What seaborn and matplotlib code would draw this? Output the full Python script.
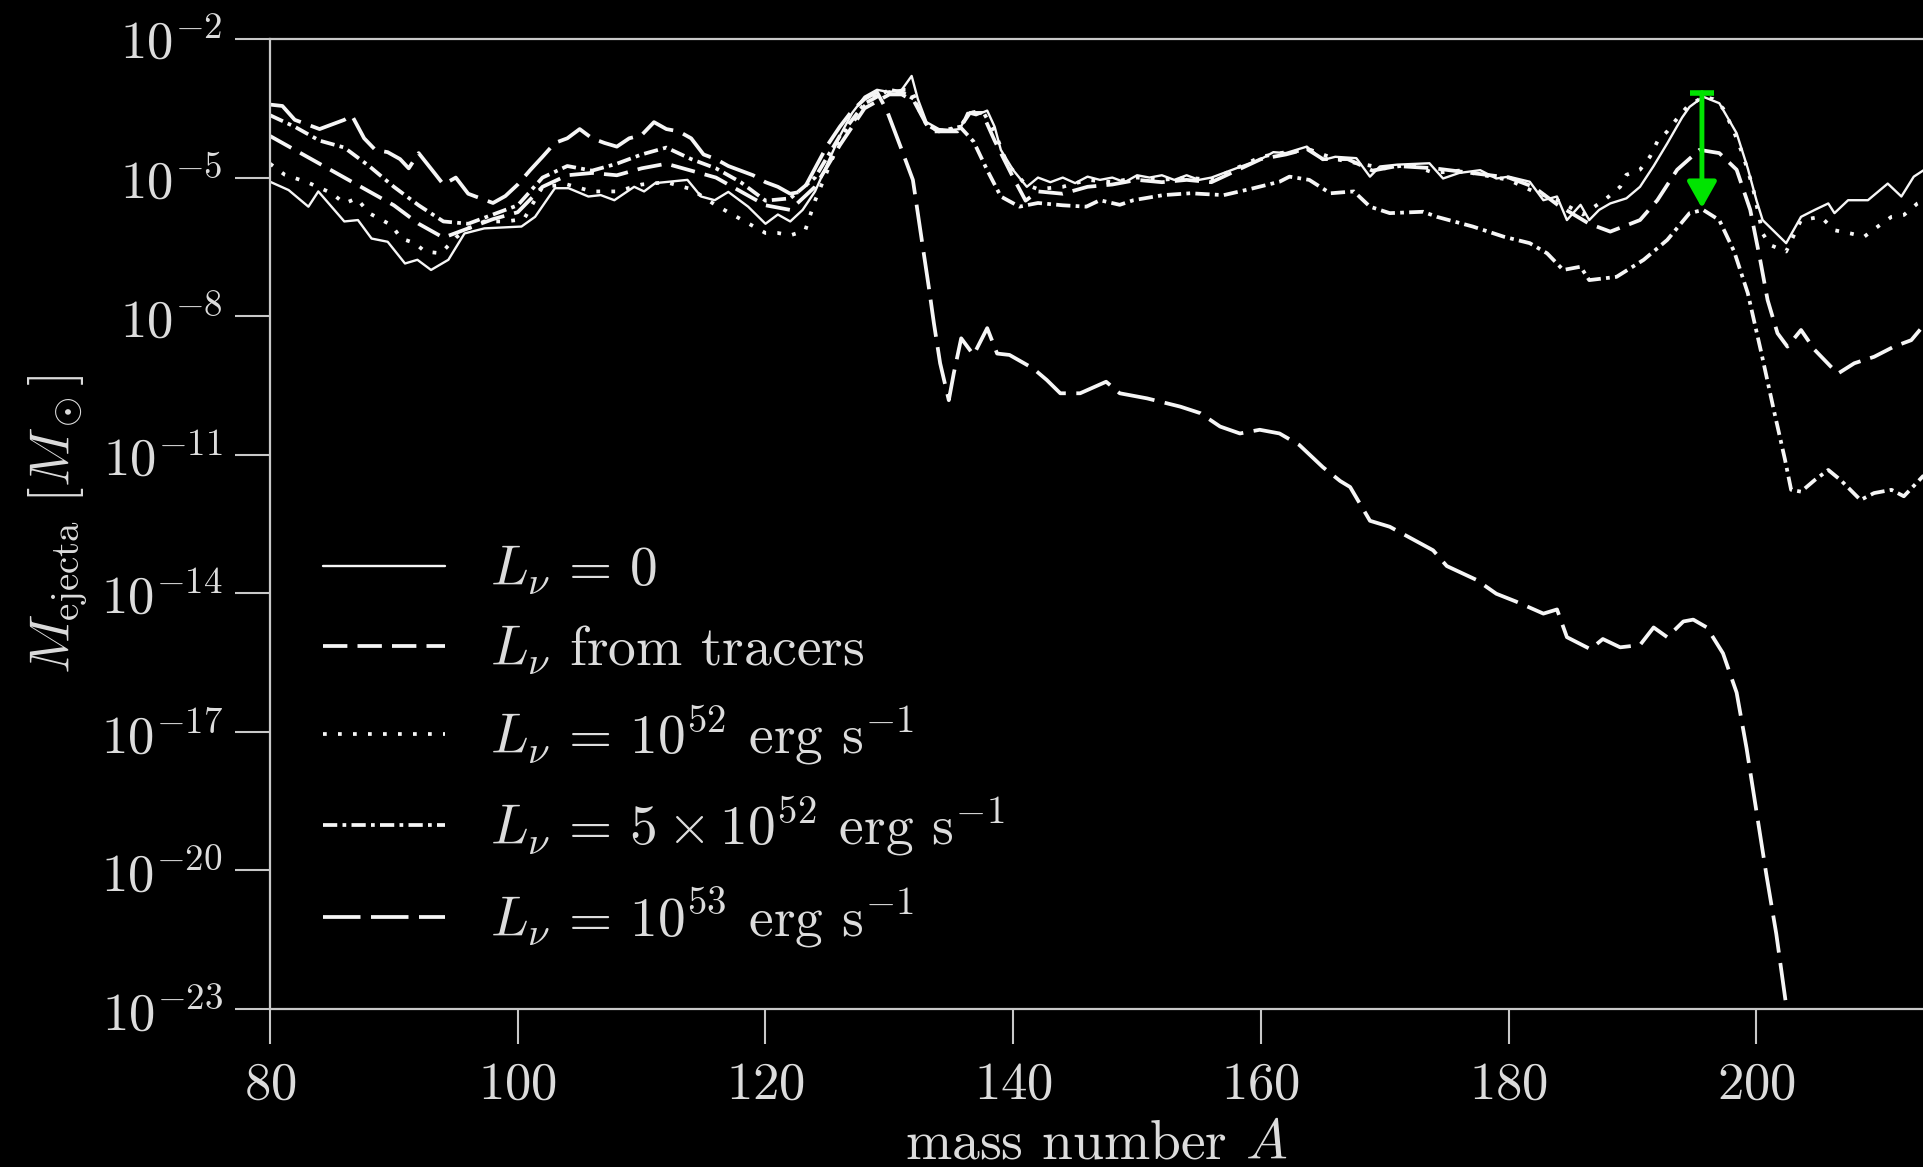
import numpy as np
import pandas as pd
import matplotlib
matplotlib.use("Agg")
import matplotlib.pyplot as plt
import seaborn as sns

# ---------------- data: (mass number A, log10 M_ejecta / M_sun) ----------------
lnu_zero = [(80, -5.09), (81.5, -5.27), (83.1, -5.63), (83.9, -5.30), (86.0, -5.95), (87.1, -5.92),
            (88.2, -6.32), (89.5, -6.39), (90.9, -6.86), (91.9, -6.78), (93.0, -7.0), (94.4, -6.78),
            (95.7, -6.21), (97.3, -6.1), (100.3, -6.06), (101.4, -5.85), (103.0, -5.23), (104.1, -5.23),
            (105.7, -5.41), (106.7, -5.38), (107.8, -5.49), (109.4, -5.2), (110.2, -5.3), (111.1, -5.12),
            (113.7, -5.05), (114.8, -5.41), (115.9, -5.49), (117.0, -5.31), (118.6, -5.63), (120.0, -6.0),
            (121.0, -5.8), (122.0, -5.95), (123.0, -5.7), (124.0, -5.3), (125.0, -4.7), (126.0, -4.1),
            (127.0, -3.6), (128.0, -3.25), (129.0, -3.1), (130.0, -3.15), (131.0, -3.1), (131.8, -2.8),
            (132.3, -3.3), (133.0, -3.8), (134.0, -3.95), (135.0, -3.97), (135.7, -3.95), (136.3, -3.6),
            (137.0, -3.65), (137.9, -3.55), (138.5, -3.9), (139.0, -4.4), (140.0, -4.84), (141.1, -5.2),
            (142, -5.0), (143, -5.1), (144, -5.0), (145, -5.12), (146, -4.98), (147, -5.05), (148, -5.0),
            (149, -5.1), (150, -4.95), (151, -5.0), (152, -4.95), (153, -5.05), (154, -4.95), (155, -5.05),
            (156, -5.0), (157, -4.9), (158, -4.8), (159, -4.7), (160, -4.6), (161, -4.45), (162, -4.47),
            (163.7, -4.33), (165, -4.62), (166, -4.55), (167.7, -4.58), (168.8, -4.98), (169.6, -4.76),
            (171, -4.72), (173.6, -4.69), (174.7, -5.02), (176, -4.9), (177.7, -4.84), (179, -5.02),
            (180, -4.98), (181.7, -5.09), (182.8, -5.49), (183.9, -5.41), (184.7, -5.92), (185.8, -5.59),
            (186.5, -5.92), (187.3, -5.7), (188.2, -5.56), (189.5, -5.45), (190.6, -5.2), (191.7, -4.75),
            (192.8, -4.26), (194.0, -3.7), (194.6, -3.47), (195.7, -3.25), (197.0, -3.39), (198.4, -4.04),
            (199.3, -4.8), (200.0, -5.49), (200.5, -5.92), (202.4, -6.42), (203.6, -5.85), (204.7, -5.7),
            (205.8, -5.56), (206.3, -5.77), (207.4, -5.49), (209.0, -5.49), (210.6, -5.13), (211.7, -5.41),
            (212.7, -4.98), (213.5, -4.84)]

lnu_tracers = [(80, -4.1), (82, -4.4), (84, -4.7), (86, -5.0), (88, -5.3), (90, -5.6), (92, -6.0),
               (94, -6.3), (96, -6.1), (98, -5.9), (100, -5.75), (102, -5.2), (104, -4.95), (106, -4.9),
               (108, -4.95), (110, -4.8), (112, -4.7), (114, -4.85), (116, -5.0), (118, -5.3), (120, -5.6),
               (122, -5.7), (124, -5.2), (126, -4.3), (128, -3.5), (130, -3.2), (131, -3.2), (132, -3.35),
               (133, -3.85), (134, -4.0), (135.5, -4.0), (136.5, -3.6), (137.5, -3.6), (138.5, -4.2),
               (140, -5.0), (141, -5.5), (142, -5.3), (144, -5.35), (146, -5.2), (148, -5.15), (150, -5.05),
               (152, -5.1), (154, -5.05), (156, -5.1), (158, -4.85), (160, -4.6), (162, -4.5), (163.7, -4.38),
               (165, -4.6), (167, -4.6), (169, -4.85), (171, -4.75), (174, -4.8), (177, -4.9), (180, -5.0),
               (182, -5.2), (184, -5.6), (186.5, -6.0), (188.2, -6.17), (190.6, -5.92), (192, -5.49),
               (193.6, -4.83), (195.4, -4.4), (197, -4.47), (198.4, -4.83), (199.5, -5.7), (200.3, -6.78),
               (200.9, -7.65), (201.7, -8.37), (202.5, -8.66), (203.6, -8.3), (204.7, -8.73), (206, -9.09),
               (206.6, -9.24), (207.9, -9.02), (209.5, -8.88), (211.1, -8.66), (212.5, -8.52), (213.5, -8.2)]

lnu_1e52 = [(80, -4.7), (81.2, -4.94), (83, -5.1), (85, -5.34), (86, -5.56), (87, -5.45), (88, -5.77),
            (89.8, -6.03), (90.6, -6.32), (91.7, -6.42), (92.5, -6.6), (93.8, -6.64), (95, -6.3), (96, -6.1),
            (97.3, -5.95), (99, -5.95), (100.5, -5.9), (102, -5.2), (104, -5.15), (106, -5.3), (108, -5.3),
            (110, -5.15), (112, -5.1), (114, -5.25), (116, -5.6), (118, -5.9), (120, -6.2), (121, -6.2),
            (122, -6.25), (123.2, -6.15), (124, -5.5), (126, -4.2), (128, -3.45), (129, -3.2), (130, -3.15),
            (131, -3.1), (131.8, -3.1), (132.5, -3.6), (133.3, -4.0), (134.5, -4.0), (135.7, -3.9),
            (136.5, -3.6), (137.5, -3.55), (138.5, -4.0), (139.5, -4.7), (141, -5.15), (142, -5.25),
            (144, -5.2), (146, -5.05), (148, -5.1), (150, -5.0), (152, -5.05), (154, -5.0), (156, -5.05),
            (158, -4.8), (160, -4.55), (162, -4.45), (164, -4.4), (166, -4.6), (168, -4.7), (170, -4.8),
            (172, -4.72), (174, -4.9), (176, -4.85), (178, -4.95), (180, -5.05), (182, -5.3), (184, -5.5),
            (186, -5.8), (187.9, -5.45), (189, -5.2), (189.5, -4.94), (190.6, -4.83), (191.4, -4.55),
            (192, -4.22), (192.8, -4.0), (193.6, -3.72), (194.4, -3.47), (195.7, -3.25), (196.5, -3.3),
            (197.3, -3.5), (198.1, -3.95), (198.9, -4.5), (199.7, -5.2), (200.5, -6.21), (201.1, -6.46),
            (202.4, -6.6), (203.6, -5.92), (205.2, -5.85), (206.3, -6.14), (207.6, -6.21), (208.7, -6.28),
            (209.8, -6.06), (210.9, -5.85), (211.9, -5.81), (213, -5.56), (213.5, -5.5)]

lnu_5e52 = [(80, -3.65), (82, -3.9), (84, -4.2), (86, -4.35), (88, -4.75), (90, -5.2), (92, -5.6),
            (94, -5.95), (96, -6.0), (98, -5.8), (100, -5.6), (102, -5.0), (104, -4.75), (106, -4.85),
            (108, -4.7), (110, -4.5), (112, -4.35), (114, -4.6), (116, -4.8), (118, -5.1), (120, -5.5),
            (122, -5.45), (124, -5.0), (126, -4.1), (128, -3.4), (130, -3.1), (131, -3.15), (132, -3.3),
            (133, -3.85), (134, -4.0), (135.7, -3.9), (136.8, -4.22), (137.9, -4.84), (139, -5.41),
            (140.5, -5.63), (142, -5.55), (144, -5.6), (145.9, -5.63), (147, -5.49), (148.6, -5.59),
            (149.7, -5.49), (152.1, -5.38), (154.3, -5.34), (157, -5.38), (159.4, -5.23), (161.5, -5.09),
            (162.3, -4.98), (163.9, -5.05), (165.6, -5.34), (167.5, -5.3), (168.8, -5.63), (170.4, -5.77),
            (173.1, -5.74), (174.2, -5.85), (177.1, -6.06), (179.6, -6.28), (181.7, -6.42), (183.1, -6.64),
            (184.4, -7.0), (185.8, -6.93), (186.5, -7.22), (188.7, -7.15), (190.9, -6.78), (192.8, -6.35),
            (194.6, -5.77), (195.7, -5.7), (197, -5.92), (198.2, -6.6), (199.3, -7.5), (200.4, -8.8),
            (201.4, -10.03), (202.3, -11.1), (202.8, -11.76), (203.6, -11.8), (204.7, -11.55),
            (205.8, -11.33), (206.8, -11.55), (208.4, -11.98), (209.5, -11.83), (210.9, -11.76),
            (211.9, -11.9), (213.5, -11.45)]

lnu_1e53 = [(80, -3.42), (81, -3.45), (82, -3.75), (83, -3.85), (84, -3.95), (85, -3.85), (86, -3.75),
            (86.6, -3.65), (87.6, -4.15), (88.5, -4.4), (89.5, -4.45), (90.5, -4.6), (91.2, -4.8),
            (92, -4.47), (93.3, -4.91), (94, -5.15), (95, -5.0), (96, -5.35), (97, -5.45), (98, -5.55),
            (99, -5.4), (100, -5.15), (101, -4.84), (102, -4.55), (103, -4.25), (104, -4.15), (105, -3.95),
            (106, -4.15), (107, -4.25), (108, -4.33), (109, -4.15), (110, -4.08), (111, -3.8), (112, -3.95),
            (113, -4.0), (114, -4.15), (115, -4.5), (116, -4.6), (117, -4.75), (118, -4.85), (119, -4.95),
            (120, -5.1), (121, -5.2), (122, -5.35), (123, -5.3), (124, -4.8), (125, -4.3), (126, -3.9),
            (127, -3.55), (128, -3.3), (129, -3.15), (129.8, -3.55), (130.9, -4.33), (131.9, -5.05),
            (132.7, -6.5), (133.2, -7.4), (133.6, -8.16), (134.1, -9.02), (134.8, -9.82), (135.2, -9.24),
            (135.8, -8.48), (136.8, -8.84), (137.9, -8.26), (138.7, -8.81), (139.7, -8.84), (141.6, -9.13),
            (142.7, -9.38), (143.8, -9.67), (145.4, -9.67), (147.5, -9.42), (148.6, -9.67), (150.8, -9.78),
            (153.5, -9.96), (155.1, -10.1), (156.7, -10.39), (158.3, -10.54), (159.9, -10.46),
            (161.5, -10.54), (163.1, -10.79), (165, -11.27), (166.4, -11.57), (167.2, -11.7),
            (168.8, -12.43), (170.4, -12.56), (173.9, -13.07), (175, -13.41), (177.4, -13.71),
            (179, -14.01), (180.6, -14.18), (182.8, -14.44), (183.9, -14.35), (184.7, -14.95),
            (186.6, -15.21), (187.6, -14.99), (189, -15.17), (190.6, -15.12), (191.7, -14.74),
            (192.8, -14.95), (194.1, -14.61), (194.9, -14.57), (196, -14.74), (197.3, -15.3),
            (198.4, -16.15), (199.2, -17.35), (200, -18.72), (200.8, -20.09), (201.6, -21.37),
            (202.4, -22.92), (203, -24.0)]

series_labels = [r"$L_\nu \,=\, 0$",
                 r"$L_\nu$ from tracers",
                 r"$L_\nu \,=\, 10^{52}$ erg s$^{-1}$",
                 r"$L_\nu \,=\, 5\times 10^{52}$ erg s$^{-1}$",
                 r"$L_\nu \,=\, 10^{53}$ erg s$^{-1}$"]
series_data = [lnu_zero, lnu_tracers, lnu_1e52, lnu_5e52, lnu_1e53]

ytick_exponents = [-2, -5, -8, -11, -14, -17, -20, -23]
xticks = [80, 100, 120, 140, 160, 180, 200]

# green arrow annotation (A, log10 top, log10 bottom)
arrow_A = 195.6
arrow_top = -3.16
arrow_bottom = -5.66

# ---------------- styling ----------------
sns.set_theme(style="ticks")
plt.rcParams.update({
    "font.family": "serif",
    "font.serif": ["cmr10", "DejaVu Serif"],
    "mathtext.fontset": "cm",
    "axes.unicode_minus": False,
    "axes.formatter.use_mathtext": True,
})

W, H = 1923, 1167
fig = plt.figure(figsize=(W / 100, H / 100), dpi=100, facecolor="black")
ax_left, ax_right, ax_top, ax_bottom = 270, 1923, 39, 1009
ax = fig.add_axes([ax_left / W, (H - ax_bottom) / H, (ax_right - ax_left) / W, (ax_bottom - ax_top) / H])
ax.set_facecolor("black")

line_col = "#f6f6f6"
styles = [
    dict(linestyle="-", linewidth=1.7),
    dict(linestyle=(0, (6.5, 2.7)), linewidth=2.7),
    dict(linestyle=(0, (1, 3.0)), linewidth=2.7),
    dict(linestyle=(0, (3.8, 1.4, 1, 1.4)), linewidth=2.7),
    dict(linestyle=(0, (10, 2.8)), linewidth=2.7),
]

for pts, lab, st in zip(series_data, series_labels, styles):
    df = pd.DataFrame(pts, columns=["A", "logM"])
    df["M"] = 10.0 ** df["logM"]
    sns.lineplot(data=df, x="A", y="M", ax=ax, color=line_col, label=lab,
                 estimator=None, sort=False, **st)

ax.set_yscale("log")
ax.set_xlim(80, 80 + (ax_right - ax_left) / 12.387)
ax.set_ylim(1e-23, 1e-2)

ax.set_yticks([10.0 ** e for e in ytick_exponents])
ax.set_yticklabels([r"$10^{%d}$" % e for e in ytick_exponents])
ax.yaxis.set_minor_locator(matplotlib.ticker.NullLocator())
ax.set_xticks(xticks)
ax.set_xticklabels([r"$%d$" % v for v in xticks])

txt_col = "#dcdcdc"
spine_col = "#c8c8c8"
ax.tick_params(axis="both", which="major", direction="out", length=25, width=1.5,
               colors=spine_col, labelcolor=txt_col, labelsize=38)
ax.tick_params(axis="y", pad=9)
ax.tick_params(axis="x", pad=13)
for side in ["left", "bottom", "top"]:
    ax.spines[side].set_color(spine_col)
    ax.spines[side].set_linewidth(1.6)
ax.spines["right"].set_visible(False)

ax.set_xlabel(r"mass number $A$", fontsize=40, color=txt_col)
ax.set_ylabel(r"$M_{\mathrm{ejecta}}\ [M_\odot]$", fontsize=40, color=txt_col)
ax.xaxis.set_label_coords(0.5, -0.114)
ax.yaxis.set_label_coords(-0.109, 0.5)

# green arrow
green = "#00e400"
ax.annotate("", xy=(arrow_A, 10.0 ** arrow_bottom), xytext=(arrow_A, 10.0 ** arrow_top),
            arrowprops=dict(arrowstyle="-|>,head_length=0.8,head_width=0.45", color=green,
                            lw=3.5, shrinkA=0, shrinkB=0, mutation_scale=20))
ax.hlines(10.0 ** arrow_top, arrow_A - 1.0, arrow_A + 1.0, color=green, lw=4)

leg = ax.legend(loc="center left", bbox_to_anchor=(0.032, 0.270), frameon=False,
                fontsize=40, handlelength=2.2, handletextpad=0.8, labelspacing=0.48,
                borderpad=0, borderaxespad=0)
for t in leg.get_texts():
    t.set_color(txt_col)

fig.savefig("out.png", dpi=100, facecolor="black")
